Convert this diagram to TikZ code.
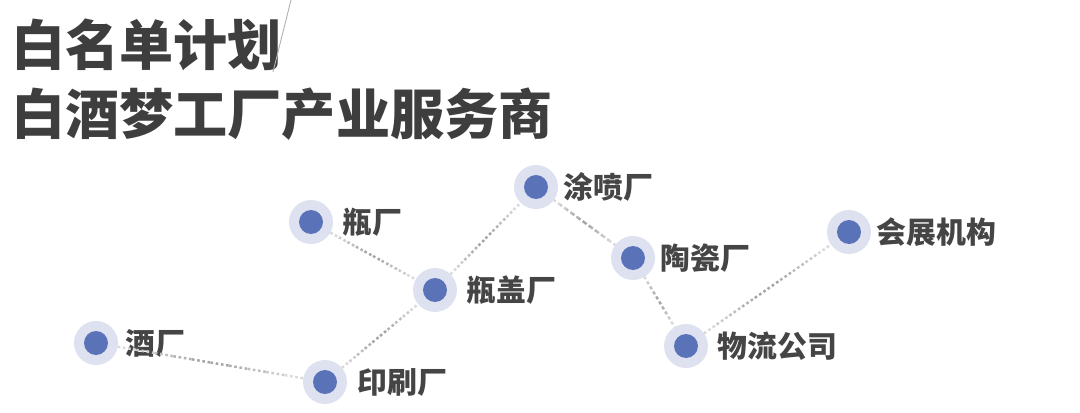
\documentclass[tikz,border=0pt]{standalone}
\usepackage{fontspec}
\newfontfamily\cjk{Noto Sans CJK SC}
\usetikzlibrary{positioning,calc}
\definecolor{ringblue}{HTML}{DEE1F0}
\definecolor{dotblue}{HTML}{5A72B8}
\definecolor{inkgray}{HTML}{454545}
\tikzset{
  ring/.style  = {circle, fill=ringblue, minimum size=0.88cm, inner sep=0pt},
  dot/.style   = {circle, fill=dotblue, minimum size=0.48cm, inner sep=0pt},
  lbl/.style   = {font=\cjk\bfseries\fontsize{17}{18}\selectfont, text=inkgray,
                  inner sep=0pt, anchor=west},
  title/.style = {font=\cjk\bfseries\fontsize{30.8}{32}\selectfont, text=inkgray!90!black,
                  inner sep=0pt, anchor=west},
  link/.style  = {line width=1.4pt, dash pattern=on 1.5pt off 1.5pt},
}
% dotted link, darker in the middle
\newcommand\fadelink[2]{%
  \coordinate (la) at ($(#1)!0.44cm!(#2)$);
  \coordinate (lb) at ($(#2)!0.44cm!(#1)$);
  \foreach \s in {0,...,9}{
    \pgfmathsetmacro\pc{int(25+50*(1-abs(\s-4.5)/5))}
    \draw[link, gray!\pc] ($(la)!\s/10!(lb)$) -- ($(la)!\s/10+0.1!(lb)$);}}

\begin{document}
\begin{tikzpicture}[x=0.02cm,y=-0.02cm]
  \useasboundingbox (0,0) rectangle (1080,413);
  % heading
  \node[title] (t1) at (11,45) {白名单计划};
  \node[title] (t2) at (11,114) {白酒梦工厂产业服务商};
  \coordinate (s1) at (291,0);
  \coordinate (s2) at (273,72);
  \draw[gray!60, line width=0.5pt] (s1) -- (s2);
  % stations
  \node[ring] (jiu)   at (96,343)  {};
  \node[ring] (yin)   at (325,382) {};
  \node[ring] (ping)  at (311,222) {};
  \node[ring] (gai)   at (435,290) {};
  \node[ring] (tu)    at (536,187) {};
  \node[ring] (tao)   at (633,258) {};
  \node[ring] (wuliu) at (686,346) {};
  \node[ring] (hui)   at (849,232) {};
  \foreach \n in {jiu,yin,ping,gai,tu,tao,wuliu,hui}
    \node[dot] at (\n) {};
  \node[lbl, right=0.14cm of jiu]   {酒厂};
  \node[lbl, right=0.2cm of yin]    {印刷厂};
  \node[lbl, right=0.18cm of ping]  {瓶厂};
  \node[lbl, right=0.18cm of gai]   {瓶盖厂};
  \node[lbl, right=0.1cm of tu]     {涂喷厂};
  \node[lbl, right=0.1cm of tao]    {陶瓷厂};
  \node[lbl, right=0.18cm of wuliu] {物流公司};
  \node[lbl, right=0.1cm of hui]    {会展机构};
  % links
  \fadelink{jiu}{yin}
  \fadelink{yin}{gai}
  \fadelink{ping}{gai}
  \fadelink{gai}{tu}
  \fadelink{tu}{tao}
  \fadelink{tao}{wuliu}
  \fadelink{wuliu}{hui}
\end{tikzpicture}
\end{document}
